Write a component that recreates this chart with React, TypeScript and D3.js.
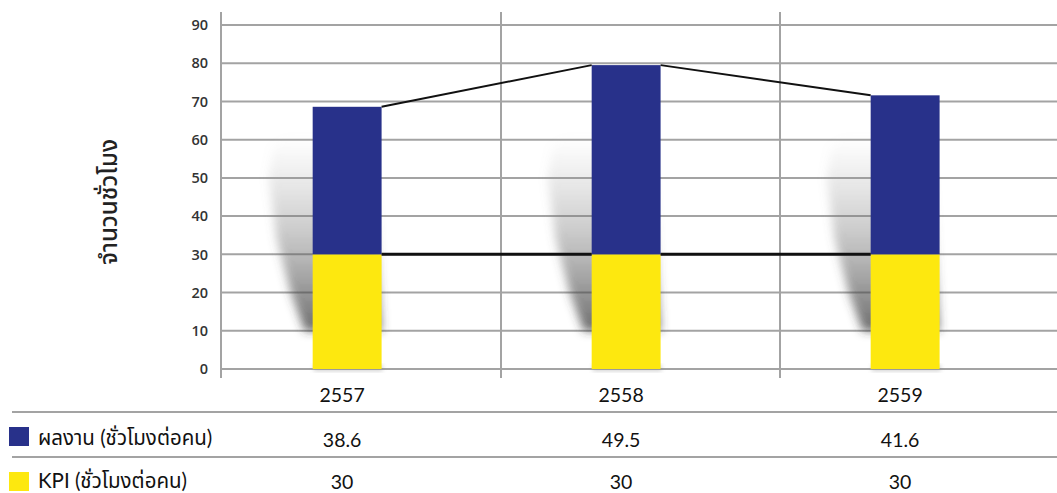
import React, { useEffect } from 'react';
import * as d3 from 'd3';

const categories = ['2557', '2558', '2559'];
const performance = [38.6, 49.5, 41.6];
const kpi = [30, 30, 30];
const yTicks = [0, 10, 20, 30, 40, 50, 60, 70, 80, 90];
const seriesNames = ['ผลงาน (ชั่วโมงต่อคน)', 'KPI (ชั่วโมงต่อคน)'];
const yLabel = 'จำนวนชั่วโมง';

const W = 1057;
const H = 493;
const BLUE = '#28318a';
const YELLOW = '#fde80f';
const GRID = '#a3a3a3';
const FONT = "Lato, 'Noto Sans Thai', 'Noto Sans', 'DejaVu Sans', sans-serif";

export default function App() {
  useEffect(() => {
    document.body.style.margin = '0';
  }, []);

  const axisX = 221;
  const y = d3.scaleLinear().domain([0, 90]).range([369, 25]);
  const x = d3.scaleBand().domain(categories).range([222, 1059]).padding(0);
  const bw = x.bandwidth();
  const barOff = bw * 0.325;
  const barW = bw * 0.247;
  const bars = categories.map((c, i) => {
    const L = (x(c) as number) + barOff;
    return { c, i, L, R: L + barW, cx: L + barW / 2, kpi: kpi[i], total: kpi[i] + performance[i] };
  });
  const y0 = y(0);
  const line = d3.line<[number, number]>();

  const shadowPts = (L: number, R: number): [number, number][] => [
    [L - 8, y0 - 38],
    [L - 22, y(20)],
    [L - 36, y(34)],
    [L - 44, y(50)],
    [L - 40, y(58)],
    [L - 24, y(61)],
    [R - 10, y(61)],
    [R, y0 - 38],
  ];

  return (
    <svg width={W} height={H} style={{ display: 'block' }} fontFamily={FONT}>
      <defs>
        <linearGradient id="shg" x1="0" y1="1" x2="0" y2="0">
          <stop offset="0" stopColor="#333" stopOpacity={0.72} />
          <stop offset="0.35" stopColor="#555" stopOpacity={0.45} />
          <stop offset="0.75" stopColor="#888" stopOpacity={0.2} />
          <stop offset="1" stopColor="#aaa" stopOpacity={0} />
        </linearGradient>
        <filter id="blur" x="-50%" y="-50%" width="200%" height="200%">
          <feGaussianBlur stdDeviation="5" />
        </filter>
        <filter id="bblur" x="-20%" y="-20%" width="140%" height="140%">
          <feGaussianBlur stdDeviation="2" />
        </filter>
      </defs>
      <rect width={W} height={H} fill="#fff" />

      {yTicks.map((t) => (
        <line key={t} x1={axisX} x2={W} y1={y(t)} y2={y(t)} stroke={GRID} strokeWidth={2} />
      ))}

      {bars.map((b) => (
        <polygon
          key={'s' + b.c}
          points={shadowPts(b.L, b.R).map((p) => p.join(',')).join(' ')}
          fill="url(#shg)"
          filter="url(#blur)"
        />
      ))}
      {bars.map((b) => (
        <rect key={'bs' + b.c} x={b.L + 1} y={y0 - 4} width={barW} height={6} fill="#888" opacity={0.4} filter="url(#bblur)" />
      ))}

      <line x1={axisX} x2={axisX} y1={12} y2={378} stroke={GRID} strokeWidth={2} />
      {categories.slice(1).map((c) => (
        <line key={'d' + c} x1={x(c) as number} x2={x(c) as number} y1={12} y2={378} stroke={GRID} strokeWidth={2} />
      ))}

      {yTicks.map((t) => (
        <text key={'t' + t} x={208} y={y(t)} dy="0.36em" textAnchor="end" fontSize={14.5} fontWeight={600}
          fontFamily="'Open Sans', sans-serif" fill="#333">
          {t}
        </text>
      ))}

      {bars.map((b) => (
        <g key={'b' + b.c}>
          <rect x={b.L} y={y(b.kpi)} width={barW} height={y0 - y(b.kpi)} fill={YELLOW} />
          <rect x={b.L} y={y(b.total)} width={barW} height={y(b.kpi) - y(b.total)} fill={BLUE} />
        </g>
      ))}

      {bars.slice(0, -1).map((b, i) => {
        const n = bars[i + 1];
        return (
          <g key={'l' + b.c}>
            <path d={line([[b.R, y(b.total)], [n.L, y(n.total)]]) as string} stroke="#111" strokeWidth={2} fill="none" />
            <path d={line([[b.R, y(b.kpi)], [n.L, y(n.kpi)]]) as string} stroke="#111" strokeWidth={3} fill="none" />
          </g>
        );
      })}

      <text transform={`translate(117,202) rotate(-90)`} textAnchor="middle" fontSize={24} fontWeight={500} fill="#222">
        {yLabel}
      </text>

      <line x1={12} x2={W} y1={412} y2={412} stroke={GRID} strokeWidth={2} />
      <line x1={12} x2={W} y1={457} y2={457} stroke={GRID} strokeWidth={2} />
      {bars.map((b) => (
        <g key={'tx' + b.c} fontSize={19.5} fill="#111" textAnchor="middle">
          <text x={b.cx - 5} y={402}>{b.c}</text>
          <text x={b.cx - 5} y={447}>{performance[b.i]}</text>
          <text x={b.cx - 5} y={489}>{kpi[b.i]}</text>
        </g>
      ))}
      <rect x={9} y={427} width={20} height={19} fill={BLUE} />
      <rect x={9} y={472} width={20} height={19} fill={YELLOW} />
      <text x={38} y={445} fontSize={20.5} fill="#111">{seriesNames[0]}</text>
      <text x={38} y={488} fontSize={20.5} fill="#111">{seriesNames[1]}</text>
    </svg>
  );
}
